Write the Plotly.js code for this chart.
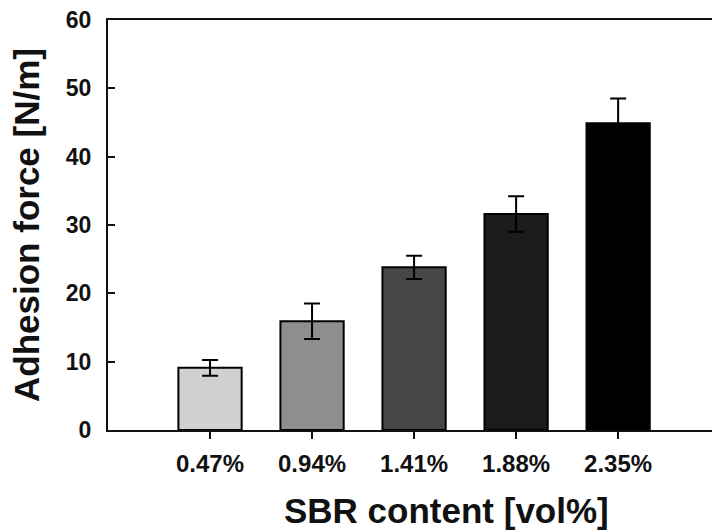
<!DOCTYPE html>
<html>
<head>
<meta charset="utf-8">
<script src="https://cdn.plot.ly/plotly-3.0.1.min.js"></script>
<style>html,body{margin:0;padding:0;background:#fff;overflow:hidden;}</style>
</head>
<body>
<div id="chart" style="width:712px;height:532px;"></div>
<script>
const categories = ["0.47%", "0.94%", "1.41%", "1.88%", "2.35%"];
const adhesionForce = [9.1, 15.9, 23.8, 31.6, 44.9];
const errorValues = [1.15, 2.6, 1.7, 2.6, 3.6];
const barColors = ["#d0d0d0", "#8e8e8e", "#474747", "#1c1c1c", "#000000"];
const yTickValues = [0, 10, 20, 30, 40, 50, 60];

const fontFamily = "Liberation Sans, Arial, sans-serif";

const trace = {
  type: "bar",
  x: categories.map((c, i) => i),
  y: adhesionForce,
  width: 0.62,
  marker: { color: barColors, line: { color: "#000", width: 2 } },
  error_y: { type: "data", array: errorValues, visible: true, color: "#000", thickness: 2, width: 8 },
  hoverinfo: "x+y"
};

const layout = {
  width: 712, height: 532,
  margin: { l: 108, r: 0, t: 20, b: 102 },
  paper_bgcolor: "#ffffff",
  plot_bgcolor: "#ffffff",
  showlegend: false,
  font: { family: fontFamily, color: "#111" },
  xaxis: {
    range: [-1, 4.92],
    tickmode: "array",
    tickvals: categories.map((c, i) => i),
    ticktext: categories,
    ticks: "outside", ticklen: 7, tickwidth: 2, tickcolor: "#111",
    showline: true, linecolor: "#111", linewidth: 2, mirror: true,
    showgrid: false, zeroline: false,
    ticklabelstandoff: 4,
    tickfont: { family: fontFamily, size: 24, color: "#111", weight: "bold" }
  },
  yaxis: {
    range: [0, 60],
    tickmode: "array",
    tickvals: yTickValues,
    ticks: "inside", ticklen: 7, tickwidth: 2, tickcolor: "#111",
    showline: true, linecolor: "#111", linewidth: 2,
    showgrid: false, zeroline: false,
    ticklabelstandoff: 10,
    tickfont: { family: fontFamily, size: 23, color: "#111", weight: "bold" },
    title: { text: "Adhesion force [N/m]", standoff: 16, font: { family: fontFamily, size: 35, color: "#111", weight: "bold" } }
  },
  annotations: [{
    text: "SBR content [vol%]",
    xref: "paper", yref: "paper",
    x: 0.56, y: 0, yshift: -80,
    xanchor: "center", yanchor: "middle",
    showarrow: false,
    font: { family: fontFamily, size: 35, color: "#111", weight: "bold" }
  }]
};

Plotly.newPlot("chart", [trace], layout, { displayModeBar: false, staticPlot: true });
</script>
</body>
</html>
